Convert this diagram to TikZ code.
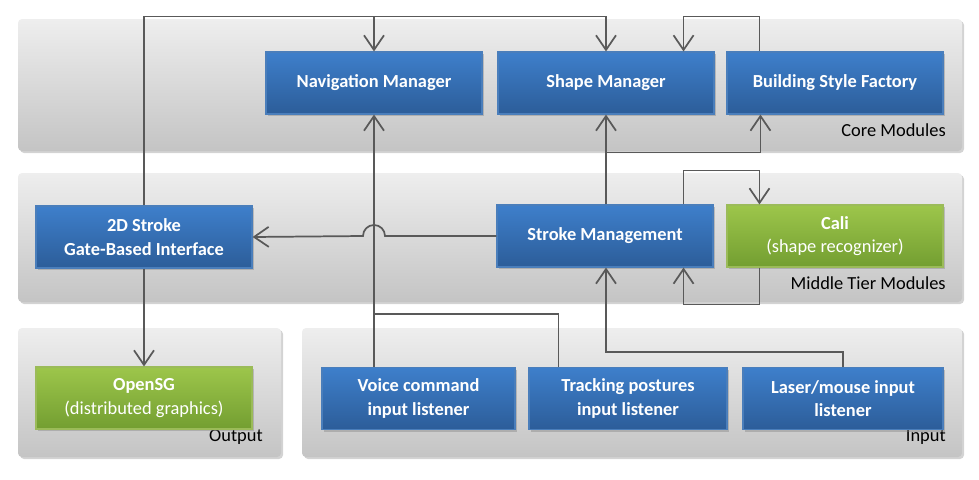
\documentclass[tikz,border=0pt]{standalone}
\usepackage{fontspec}
\setmainfont{Carlito}
\usepackage{tikz}
\usetikzlibrary{arrows.meta,calc,shadows}
\definecolor{bluetop}{HTML}{3E7FCB}
\definecolor{bluebot}{HTML}{2C5D99}
\definecolor{blueline}{HTML}{4A7EBB}
\definecolor{greentop}{HTML}{9DC64B}
\definecolor{greenbot}{HTML}{739E31}
\definecolor{greenline}{HTML}{9BBB59}
\definecolor{panelhi}{HTML}{EEEEEE}
\definecolor{panello}{HTML}{C4C4C4}
\definecolor{wire}{HTML}{595959}
\tikzset{
  panel/.style={rounded corners=3pt,top color=panelhi,bottom color=panello,
    drop shadow={shadow xshift=1.5pt,shadow yshift=-1.5pt,opacity=0.35}},
  module/.style={draw=blueline,line width=0.8pt,top color=bluetop,bottom color=bluebot,
    text=white,font=\bfseries\fontsize{13.8}{17.5}\selectfont,align=center,inner sep=0pt,
    minimum width=162pt,minimum height=46.5pt,
    drop shadow={shadow xshift=1.5pt,shadow yshift=-1.5pt,opacity=0.4}},
  extmodule/.style={module,draw=greenline,top color=greentop,bottom color=greenbot},
  tierlabel/.style={anchor=east,inner sep=0pt,font=\fontsize{13.8}{16}\selectfont},
  wire/.style={draw=wire,line width=1.3pt},
  arr/.style={wire,-{Straight Barb[length=11pt,width=15pt,line width=1.3pt]}}
}

\begin{document}
\begin{tikzpicture}[x=0.75pt,y=-0.75pt]
  \useasboundingbox (0,0) rectangle (979,479);
  % layers
  \path[panel] (18,19) rectangle (962,151);
  \path[panel] (18,173) rectangle (962,302);
  \path[panel] (18,328) rectangle (281,457);
  \path[panel] (302,328) rectangle (962,457);
  \node[tierlabel] (lblcore) at (946,130) {Core Modules};
  \node[tierlabel] (lblmid) at (946,283) {Middle Tier Modules};
  \node[tierlabel] (lblout) at (263,437) {Output};
  \node[tierlabel] (lblin) at (946,437) {Input};
  % core
  \node[module] (nav) at (374,83) {Navigation Manager};
  \node[module] (shape) at (606,83) {Shape Manager};
  \node[module] (bsf) at (835,83) {Building Style Factory};
  % middle tier
  \node[module] (sd) at (144,237) {2D Stroke\\Gate-Based Interface};
  \node[module] (sm) at (605,236) {Stroke Management};
  \node[extmodule] (cali) at (835,236) {Cali\\\mdseries(shape recognizer)};
  % output / input
  \node[extmodule] (osg) at (144,398) {OpenSG\\\mdseries(distributed graphics)};
  \node[module,minimum width=144.75pt] (voice) at (418.5,398.5) {Voice command\\input listener};
  \node[module,minimum width=148.5pt] (track) at (628,398.5) {Tracking postures\\input listener};
  \node[module,minimum width=150pt] (laser) at (843,398.5) {Laser/mouse input\\listener};
  % connectors
  \draw[arr] (sd.north) |- ($(nav.north)+(0,-35)$) -| (shape.north);
  \draw[arr] ($(nav.north)+(0,-35)$) -- (nav.north);
  \draw[arr] ($(bsf.north west)+(33,0)$) -- ++(0,-35) -| ($(shape.north east)+(-31,0)$);
  \draw[arr] (sm.north -| shape.south) -- (shape.south);
  \draw[arr] ($(shape.south)+(0,38)$) -| ($(bsf.south west)+(34,0)$);
  \draw[arr] (sm.west) -- ($(sm.west -| nav.south)+(11,0)$)
    arc[start angle=0,end angle=180,radius=8.25pt] -- (sd.east);
  \draw[arr] ($(sm.north east)+(-30,0)$) -- ++(0,-34) -| ($(cali.north west)+(33,0)$);
  \draw[arr] ($(cali.south west)+(33,0)$) -- ++(0,37) -| ($(sm.south east)+(-30,0)$);
  \draw[arr] (voice.north -| nav.south) -- (nav.south);
  \draw[wire] ($(track.north west)+(30,0)$) |- ($(voice.north -| nav.south)+(0,-53)$);
  \draw[arr] (laser.north) -- ++(0,-15) -| (sm.south -| shape.south);
  \draw[arr] (sd.south) -- (osg.north);
\end{tikzpicture}
\end{document}
